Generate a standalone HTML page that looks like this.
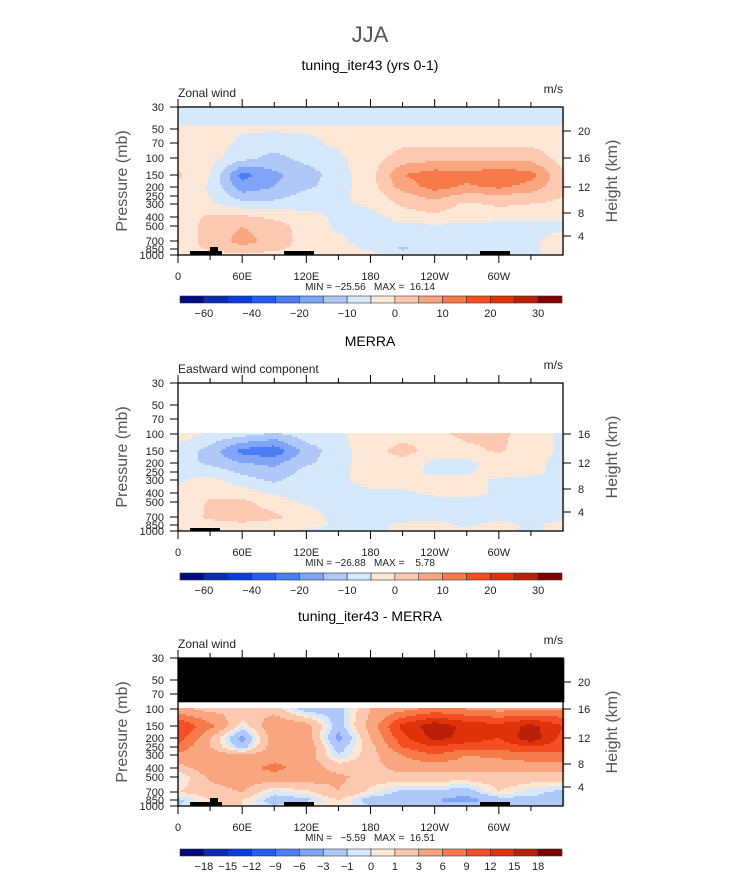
<!DOCTYPE html>
<html><head><meta charset="utf-8">
<style>
body{margin:0;background:#fff;}
svg text{font-family:"Liberation Sans",sans-serif;white-space:pre;}
</style></head>
<body>
<svg id="chart" width="733" height="872" viewBox="0 0 733 872" xmlns="http://www.w3.org/2000/svg">
<text x="370" y="42" text-anchor="middle" font-size="22" fill="#555" font-weight="300">JJA</text>
</svg>
<script>
// ---- data ----
const lons = [0,30,60,90,120,150,180,210,240,270,300,330,360];
const levels = [30,50,70,100,150,200,250,300,400,500,700,850,1000];
const levelOffsets = [0,22,36,51,68,80,89,97,110,119,134,142,148]; // axis mapping (px from top) for pressure
const xTickLabels = ["0","60E","120E","180","120W","60W"];
const heightTicks = [20,16,12,8,4];
const heightOffsets = [24,51,80,106,129];
const colors = ["#000a80","#0a2cb0","#0a3ce0","#2060f5","#4a7ef5","#80a4f7","#b0c8f8","#d6e8fb","#fde8d8","#fcc8b0","#f9a580","#f77a4a","#f44e22","#e0320a","#b8200a","#800000"];
const bounds1 = [-60,-50,-40,-30,-20,-15,-10,-5,0,5,10,15,20,25,30];
const cbLabels1 = ["-60","-40","-20","-10","0","10","20","30"];
const bounds3 = [-18,-15,-12,-9,-6,-3,-1,0,1,3,6,9,12,15,18];
const cbLabels3 = ["-18","-15","-12","-9","-6","-3","-1","0","1","3","6","9","12","15","18"];

const model = [
[-8,-8,-8,-8,-8,-8,-8,-8,-8,-8,-8,-8,-8],
[-4.5,-4.5,-4.5,-4.5,-4.5,-4.5,-4.5,-4.5,-4.5,-4.5,-4.5,-4.5,-4.5],
[-2.5,-2.5,-6,-7,-6,-4,-2.5,-1,-1,-1,-1,-1,-2.5],
[-2,-3,-8,-12,-8,-6,-2,2,3,3,3,3,-2],
[1,-5,-22,-16,-13,-7,-2,10,13,12,14,12,1],
[-2,-5.5,-18,-15,-11,-7,-2,7,12,9,11,8,1],
[-3,-5,-13,-12,-8,-6,-3,3,7,3,4,3,0],
[-3,-4,-8,-8,-7,-6,-4,1,3,-1,1,0,-1],
[-3,1,1,-1,-3,-6,-7,-3,-1,-3,-4,-4,-4],
[-3,2,5,2,-2,-6,-7,-6,-6,-6,-6,-6,-6],
[-3,2,7,3,-2,-4,-7,-7,-7,-6,-6,-6,-3],
[-2,0.5,3,1,-2,-3,-6,-11,-8,-6,-6,-6,-2],
[-2,-2,-1,-2,-3,-3,-3,-6,-6,-6,-6,-6,-3]];
const N=null;
const merra = [
[N,N,N,N,N,N,N,N,N,N,N,N,N],
[N,N,N,N,N,N,N,N,N,N,N,N,N],
[N,N,N,N,N,N,N,N,N,N,N,N,N],
[-2,-6,-8,-11,-7,-6,-2,-2,-1,1,1,-2,-6],
[-7,-12,-22,-24,-13,-7,-2,2,-2,-1,0.5,-2,-6],
[-8,-11,-15,-16,-11,-7,-2,-2,-6,-7,-2,-3,-7],
[-6,-7,-11,-14,-8,-6,-3,-2,-7,-6,-2,-4,-6],
[-6,-3,-8,-11,-7,-6,-3,-2,-3,-3,-6,-6,-6],
[-3,-2,-2,-6,-7,-7,-6,-6,-4,-3,-6,-7,-7],
[-6,1,1,-2,-6,-7,-7,-7,-7,-7,-7,-7,-7],
[-3,1,2,1,-2,-7,-7,-7,-7,-7,-7,-7,-7],
[-3,-2,-1,-2,-3,-6,-7,-4,-3,-6,-3,-6,-3],
[1,-3,-3,-3,-6,-7,-7,-3,-3,-3,-3,-7,-3]];
const B="black";
const diff = [
[B,B,B,B,B,B,B,B,B,B,B,B,B],
[B,B,B,B,B,B,B,B,B,B,B,B,B],
[B,B,B,B,B,B,B,B,B,B,B,B,B],
[4,2,3,2,-2,-2,3,5,7,6,5,5,6],
[12,7,0,5,4,-2,4,13,17,14,13,16,12],
[11,3,-4,4.5,4.5,-4,3,11,16,14,12,17,11],
[8,3,-2,4.5,5,-2,2,9,12,10,10,12,10],
[5,4.5,3,4.5,4.5,-1,2,6,9,6,7,8,8],
[2,4.5,5,7,4.5,2,2,4,4,4,3.5,4,4],
[-0.5,3.5,4.5,4.5,4.5,3.5,2,2,2,2,2,2,2],
[1,2,3,-0.5,0.5,3,0.5,-1.5,-1.5,-2,1,-0.5,-1.5],
[-1.5,1,1,-2,-1.5,1,-2,-2.5,-3,-4,-2,-1.5,-1.5],
[-1,1,1,-1,1,1,-1,-2,-2,-2,-1,-1,-1]];

// ---- layout ----
const svg=document.getElementById('chart');
const NS="http://www.w3.org/2000/svg";
const X0=178,X1=563,PH=148;
function mk(tag,attrs,parent){const e=document.createElementNS(NS,tag);for(const k in attrs)e.setAttribute(k,attrs[k]);(parent||svg).appendChild(e);return e;}
function xScale(lon){return X0+(X1-X0)*lon/360;}
function yScale(top,p){
  const lp=Math.log(p);
  for(let i=0;i<levels.length-1;i++){
    const a=Math.log(levels[i]),b=Math.log(levels[i+1]);
    if(lp>=a&&lp<=b){return top+levelOffsets[i]+(levelOffsets[i+1]-levelOffsets[i])*(lp-a)/(b-a);}
  }
  return top+PH;
}
function sample(grid,fx,fy){
  const i=Math.min(Math.floor(fx),lons.length-2),j=Math.min(Math.floor(fy),levels.length-2);
  const tx=fx-i,ty=fy-j;
  const v=[grid[j][i],grid[j][i+1],grid[j+1][i],grid[j+1][i+1]];
  if(v.some(q=>q==="black"))return (ty<0.5?(grid[j][i]):(grid[j+1][i]))==="black"?"black":interp(v,tx,ty);
  if(v.some(q=>q===null)){return (ty<0.999&&grid[j][i]===null)?null:interp(v.map(q=>q===null?0:q),tx,ty);}
  return interp(v,tx,ty);
}
function interp(v,tx,ty){if(v.some(q=>typeof q!=="number"))return null;return v[0]*(1-tx)*(1-ty)+v[1]*tx*(1-ty)+v[2]*(1-tx)*ty+v[3]*tx*ty;}
function colorFor(val,bounds){if(val===null)return null;if(val==="black")return "#000";let k=0;while(k<bounds.length&&val>=bounds[k])k++;return colors[k];}
function offsetToLevelIndex(off){for(let i=0;i<levelOffsets.length-1;i++){if(off<=levelOffsets[i+1])return i+(off-levelOffsets[i])/(levelOffsets[i+1]-levelOffsets[i]);}return levels.length-1;}

function drawField(name,top,grid,bounds){
  const g=mk('g',{});
  
  
  const cw=2,chh=2;
  for(let y=0;y<PH;y+=chh){
    const fy=offsetToLevelIndex(y+chh/2);
    let runStart=0,runCol=null;
    const cols=Math.ceil((X1-X0)/cw);
    for(let c=0;c<=cols;c++){
      let col=undefined;
      if(c<cols){const lon=(c*cw+cw/2)/(X1-X0)*360;col=colorFor(sample(grid,lon/30,fy),bounds);}
      if(c===cols||col!==runCol){
        if(c>0&&runCol){const r=mk('rect',{x:X0+runStart*cw,y:top+y,width:(c-runStart)*cw+0.3,height:chh+0.3,fill:runCol},g);
          
          }
        runStart=c;runCol=col;
      }
    }
  }
}
function drawLand(top){
  const blocks=[[190,222,4],[210,218,8],[284,314,4],[480,510,4]];
  blocks.forEach(b=>{const r=mk('rect',{x:b[0],y:top+PH-b[2],width:b[1]-b[0],height:b[2],fill:'#000'});
    
    });
}
function txt(s,x,y,size,anchor,extra){const t=mk('text',Object.assign({x:x,y:y,'font-size':size,'text-anchor':anchor||'start',fill:'#000'},extra||{}));t.textContent=s;return t;}
function drawAxes(top,title,sub,minmax,hTicks){
  let t=txt(title,370,top-37,14,'middle');
  
  
  t=txt(sub,X0,top-10,12,'start',{fill:'#222','font-weight':'300'});
  
  
  t=txt('m/s',X1,top-14,12,'end',{fill:'#222'});
  
  
  const f=mk('rect',{x:X0,y:top,width:X1-X0,height:PH,fill:'none',stroke:'#000','stroke-width':1.3});
  
  
  for(let lon=0;lon<360;lon+=30){
    const x=xScale(lon),len=lon%60===0?8:5;
    mk('line',{x1:x,x2:x,y1:top,y2:top-len,stroke:'#000'});
    mk('line',{x1:x,x2:x,y1:top+PH,y2:top+PH+len,stroke:'#000'});
  }
  xTickLabels.forEach((s,i)=>{t=txt(s,xScale(i*60),top+PH+25,11,'middle',{fill:'#222'});
    
    });
  levels.forEach((p,i)=>{const y=yScale(top,p);
    mk('line',{x1:X0-8,x2:X0,y1:y,y2:y,stroke:'#000'});
    t=txt(String(p),X0-14,y+4,11,'end',{fill:'#222'});
    
    });
  hTicks.forEach((h)=>{const y=top+heightOffsets[heightTicks.indexOf(h)];
    mk('line',{x1:X1,x2:X1+8,y1:y,y2:y,stroke:'#000'});
    t=txt(String(h),X1+15,y+4,11,'start',{fill:'#222'});
    
    });
  t=txt('Pressure (mb)',0,0,16,'middle',{transform:`translate(127,${top+74}) rotate(-90)`,fill:'#555'});
  
  
  t=txt('Height (km)',0,0,16,'middle',{transform:`translate(617,${top+74}) rotate(-90)`,fill:'#555'});
  
  
  t=txt(minmax,370,top+PH+35,10,'middle',{fill:'#222'});
  
  
}
function drawColorbar(y,labels,labelIdx){
  const g=mk('g',{});
  
  
  const x0=180,x1=562,w=(x1-x0)/16;
  colors.forEach((c,i)=>{const r=mk('rect',{x:x0+i*w,y:y,width:w,height:7,fill:c,stroke:'#333','stroke-width':0.6},g);
    
    });
  labels.forEach((s,i)=>{const t=txt(s.replace('-','\u2212'),x0+w*labelIdx(i),y+21,11,'middle',{fill:'#222'});
    
    });
}
// panel 1
drawField('model',107,model,bounds1);drawLand(107);
drawAxes(107,'tuning_iter43 (yrs 0-1)','Zonal wind','MIN = \u221225.56   MAX =  16.14',[20,16,12,8,4]);
drawColorbar(296,cbLabels1,i=>1+2*i);
// panel 2
drawField('merra',383,merra,bounds1);
mk('rect',{x:190,y:383+PH-3,width:30,height:3,fill:'#000'});
drawAxes(383,'MERRA','Eastward wind component','MIN = \u221226.88   MAX =    5.78',[16,12,8,4]);
drawColorbar(573,cbLabels1,i=>1+2*i);
// panel 3
drawField('difference',658,diff,bounds3);drawLand(658);
drawAxes(658,'tuning_iter43 - MERRA','Zonal wind','MIN =   \u22125.59   MAX =  16.51',[20,16,12,8,4]);
drawColorbar(849,cbLabels3,i=>1+i);
</script>
</body></html>
